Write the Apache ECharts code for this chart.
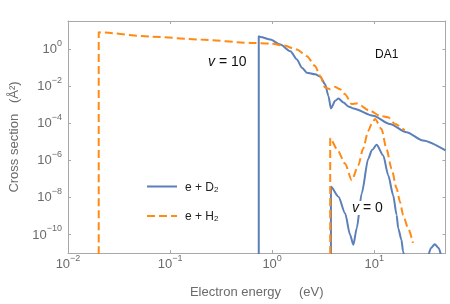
<!DOCTYPE html>
<html><head><meta charset="utf-8">
<script src="https://cdn.jsdelivr.net/npm/echarts@6/dist/echarts.min.js"></script>
<style>html,body{margin:0;padding:0;background:#fff}#c{width:450px;height:304px}</style>
</head><body><div id="c"></div>
<script>
// Axis ranges (eV, Å^2) and tick exponents
const xRange = [0.01, 50];
const yRange = [1e-11, 31.6];
const xTickExp = [-2, -1, 0, 1];
const yTickExp = [-10, -8, -6, -4, -2, 0];

// e + D2, v = 10
const d2HighE = [0.74, 0.74, 0.769, 0.962, 1.205, 1.51, 1.75, 1.96, 2.19, 2.64, 2.96, 3.31, 3.56, 3.77, 4.15, 4.47, 5.00, 5.58, 6.25, 9.79, 14.26, 20.75, 30.1, 50];
const d2HighSigma = [1e-13, 4.72, 4.39, 3.14, 1.70, 0.745, 0.268, 0.0964, 0.0521, 0.0423, 0.0318, 0.0123, 0.00292, 6.18e-4, 0.00158, 0.00212, 0.00129, 7.91e-4, 6.18e-4, 2.49e-4, 8.95e-5, 3.22e-5, 1.15e-5, 3.34e-6];

// e + H2, v = 10
const h2HighE = [0.02, 0.02, 0.065, 0.20, 0.614, 0.962, 1.30, 1.75, 2.19, 2.64, 2.96, 3.31, 3.71, 4.15, 4.63, 5.19, 6.03, 6.75, 9.10, 11.4, 13.7, 16.0, 19.95];
const h2HighSigma = [1e-13, 7.73, 4.55, 3.14, 2.09, 1.92, 1.50, 0.918, 0.402, 0.1175, 0.0343, 0.0082, 0.00667, 0.00885, 0.00667, 0.0036, 0.00105, 0.00115, 4.6e-4, 2.49e-4, 2.04e-4, 8.95e-5, 3.93e-5];

// e + H2, v = 0
const h2LowE = [3.71, 3.71, 4.31, 5.19, 6.03, 7.0, 7.78, 8.75, 9.53, 10.2, 11.8, 13.2, 14.8, 16.6, 17.9, 19.2, 21.5, 24.0];
const h2LowSigma = [1e-13, 1.54e-5, 4.12e-6, 6.5e-7, 8.3e-8, 5.27e-7, 4.12e-6, 3.78e-5, 1.01e-4, 1.66e-4, 4.83e-5, 4.12e-6, 3.5e-7, 2.99e-8, 5.8e-9, 1.12e-9, 2.17e-10, 3.43e-11];

// e + D2, v = 0
const d2LowE = [3.77, 3.77, 4.47, 5.19, 5.81, 6.25, 6.75, 7.55, 8.75, 9.52, 10.57, 12.27, 13.74, 15.35, 16.6, 17.2, 18.5, 19.2, 19.8];
const d2LowSigma = [1e-13, 3.69e-8, 1.08e-8, 1.38e-9, 9.5e-11, 2.78e-11, 2.17e-10, 1.62e-8, 1.2e-6, 3.5e-6, 6.75e-6, 1.81e-6, 1.54e-7, 1.31e-8, 1.12e-9, 2.17e-10, 5.14e-11, 1.23e-11, 5.4e-12];
const d2TailE = [33.5, 36.0, 39.2, 42.9, 45.9];
const d2TailSigma = [5e-12, 1.86e-11, 3e-11, 1.86e-11, 5e-12];

const BLUE = '#5b7fb8';
const ORANGE = '#ff8a14';
const GRAY = '#a8a8a8';
const LABEL = '#6b6b6b';
const FONT = 'Liberation Sans, Arial, sans-serif';

const L = Math.log10;
const pts = (E, S) => E.map((e, i) => [L(e), L(S[i])]);
const sup = v => '{b|10}{s|' + (v < 0 ? '\u2212' + (-v) : v) + '}';
const tickRich = {
  b: {fontSize: 13, fontFamily: FONT, color: LABEL, lineHeight: 14, verticalAlign: 'bottom'},
  s: {fontSize: 9, fontFamily: FONT, color: LABEL, lineHeight: 10, padding: [0, 0, 8, 0], verticalAlign: 'bottom'}
};

function mkSeries(name, data, color, dashed) {
  return {
    name, type: 'line', data, symbol: 'none', showSymbol: false, clip: true, animation: false,
    smooth: 0.25, smoothMonotone: 'x',
    lineStyle: {color, width: 2, type: dashed ? [8, 4] : 'solid'},
    itemStyle: {color}, z: dashed ? 3 : 2
  };
}

const xMin = L(xRange[0]), xMax = L(xRange[1]);
const yMin = L(yRange[0]), yMax = L(yRange[1]);
const frameLine = {onZero: false, show: true, lineStyle: {color: GRAY, width: 1}};
const frameTick = vals => ({show: true, inside: true, length: 3, lineStyle: {color: GRAY}, customValues: vals});

const chart = echarts.init(document.getElementById('c'), null, {renderer: 'canvas'});
chart.setOption({
  backgroundColor: '#fff',
  animation: false,
  grid: {left: 67, right: 4.5, top: 21, bottom: 49.3},
  legend: {
    orient: 'vertical', left: 141, top: 173.5, itemWidth: 30, itemHeight: 14, itemGap: 14.6,
    data: ['D2', 'H2'],
    itemStyle: {opacity: 0},
    formatter: n => '{t|e + ' + n[0] + '}{sub|2}',
    textStyle: {rich: {
      t: {fontSize: 12, fontFamily: FONT, color: '#222', lineHeight: 14, padding: [0, 0, 0, 3], verticalAlign: 'bottom'},
      sub: {fontSize: 8, fontFamily: FONT, color: '#222', lineHeight: 8, padding: [7, 0, 0, 0], verticalAlign: 'bottom'}
    }}
  },
  xAxis: [{
    type: 'value', min: xMin, max: xMax, position: 'bottom',
    name: 'Electron energy     (eV)', nameLocation: 'middle', nameGap: 33,
    nameTextStyle: {fontSize: 13, fontFamily: FONT, color: LABEL},
    axisLine: frameLine, axisTick: frameTick(xTickExp),
    axisLabel: {customValues: xTickExp, margin: 4, formatter: sup, rich: tickRich},
    splitLine: {show: false}
  }, {
    type: 'value', min: xMin, max: xMax, position: 'top',
    axisLine: frameLine, axisTick: frameTick(xTickExp),
    axisLabel: {show: false}, splitLine: {show: false}
  }],
  yAxis: [{
    type: 'value', min: yMin, max: yMax, position: 'left',
    name: 'Cross section   (\u00C5\u00B2)', nameLocation: 'middle', nameGap: 47,
    nameTextStyle: {fontSize: 13, fontFamily: FONT, color: LABEL},
    axisLine: frameLine, axisTick: frameTick(yTickExp),
    axisLabel: {customValues: yTickExp, margin: 6, formatter: sup, rich: tickRich},
    splitLine: {show: false}
  }, {
    type: 'value', min: yMin, max: yMax, position: 'right',
    axisLine: frameLine, axisTick: frameTick(yTickExp),
    axisLabel: {show: false}, splitLine: {show: false}
  }],
  series: [
    mkSeries('D2', pts(d2HighE, d2HighSigma), BLUE, false),
    mkSeries('D2', pts(d2LowE, d2LowSigma), BLUE, false),
    mkSeries('D2', pts(d2TailE, d2TailSigma), BLUE, false),
    mkSeries('H2', pts(h2HighE, h2HighSigma), ORANGE, true),
    mkSeries('H2', pts(h2LowE, h2LowSigma), ORANGE, true)
  ],
  graphic: [
    {type: 'text', x: 208, y: 62, z: 10, style: {
      text: '{i|v}{n| = 10}', verticalAlign: 'middle', align: 'left',
      rich: {i: {fontSize: 14, fontStyle: 'italic', fontFamily: FONT, fill: '#111'}, n: {fontSize: 14, fontFamily: FONT, fill: '#111'}}
    }},
    {type: 'text', x: 352, y: 208, z: 10, style: {
      text: '{i|v}{n| = 0}', verticalAlign: 'middle', align: 'left', backgroundColor: '#fff',
      rich: {i: {fontSize: 14, fontStyle: 'italic', fontFamily: FONT, fill: '#111'}, n: {fontSize: 14, fontFamily: FONT, fill: '#111'}}
    }},
    {type: 'text', x: 375, y: 55, z: 10, style: {
      text: 'DA1', verticalAlign: 'middle', align: 'left', fontSize: 12, fontFamily: FONT, fill: '#111'
    }}
  ]
});
</script>
</body></html>
